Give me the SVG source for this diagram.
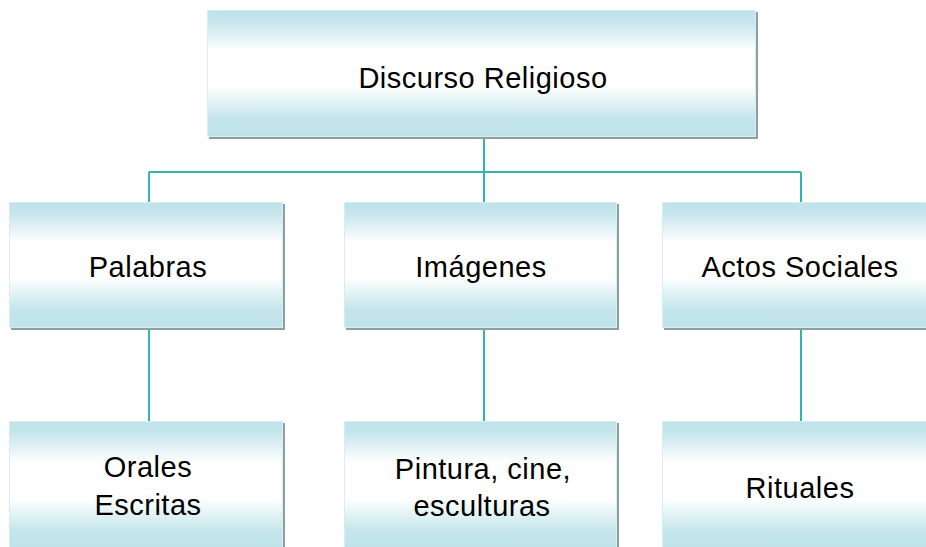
<svg xmlns="http://www.w3.org/2000/svg" width="926" height="547" viewBox="0 0 926 547">
<defs>
<linearGradient id="g" x1="0" y1="0" x2="0" y2="1">
<stop offset="0" stop-color="#c0e3ea"/>
<stop offset="0.08" stop-color="#c3e5eb"/>
<stop offset="0.32" stop-color="#ffffff"/>
<stop offset="0.6" stop-color="#ffffff"/>
<stop offset="0.86" stop-color="#c3e5eb"/>
<stop offset="1" stop-color="#c0e3ea"/>
</linearGradient>
</defs>
<style>
.box{fill:url(#g);stroke:#d6edf1;stroke-width:1}
.sh{fill:#8e9fa4}
.t{font-family:"Liberation Sans",Arial,sans-serif;font-size:29px;letter-spacing:0.5px;fill:#000;text-anchor:middle}
.c{stroke:#33b3b3;stroke-width:2;fill:none}
</style>
<rect width="926" height="547" fill="#fff"/>
<g id="connectors">
<path class="c" d="M484 137V172M149 172H801M149 172V202M484 172V202M801 172V202"/>
<path class="c" d="M149 328V421M484 328V421M801 328V421"/>
</g>
<g id="discurso">
<rect class="sh" x="209" y="12" width="549" height="127"/>
<rect class="box" x="207.5" y="10.5" width="548" height="126"/>
<text class="t" x="483" y="88">Discurso Religioso</text>
</g>
<g id="palabras">
<rect class="sh" x="11" y="204" width="274" height="126"/>
<rect class="box" x="9.5" y="202.5" width="273" height="125"/>
<text class="t" x="148" y="277">Palabras</text>
</g>
<g id="imagenes">
<rect class="sh" x="346" y="204" width="273" height="126"/>
<rect class="box" x="344.5" y="202.5" width="272" height="125"/>
<text class="t" x="481" y="277">Imágenes</text>
</g>
<g id="actos">
<rect class="sh" x="664" y="204" width="278" height="126"/>
<rect class="box" x="662.5" y="202.5" width="277" height="125"/>
<text class="t" x="800" y="277">Actos Sociales</text>
</g>
<g id="orales">
<rect class="sh" x="11" y="423" width="274" height="130"/>
<rect class="box" x="9.5" y="421.5" width="273" height="128"/>
<text class="t" x="148" y="477">Orales</text>
<text class="t" x="148" y="515">Escritas</text>
</g>
<g id="pintura">
<rect class="sh" x="346" y="423" width="273" height="130"/>
<rect class="box" x="344.5" y="421.5" width="272" height="128"/>
<text class="t" x="483" y="479">Pintura, cine,</text>
<text class="t" x="482" y="516">esculturas</text>
</g>
<g id="rituales">
<rect class="sh" x="664" y="423" width="278" height="130"/>
<rect class="box" x="662.5" y="421.5" width="277" height="128"/>
<text class="t" x="800" y="498">Rituales</text>
</g>
</svg>
